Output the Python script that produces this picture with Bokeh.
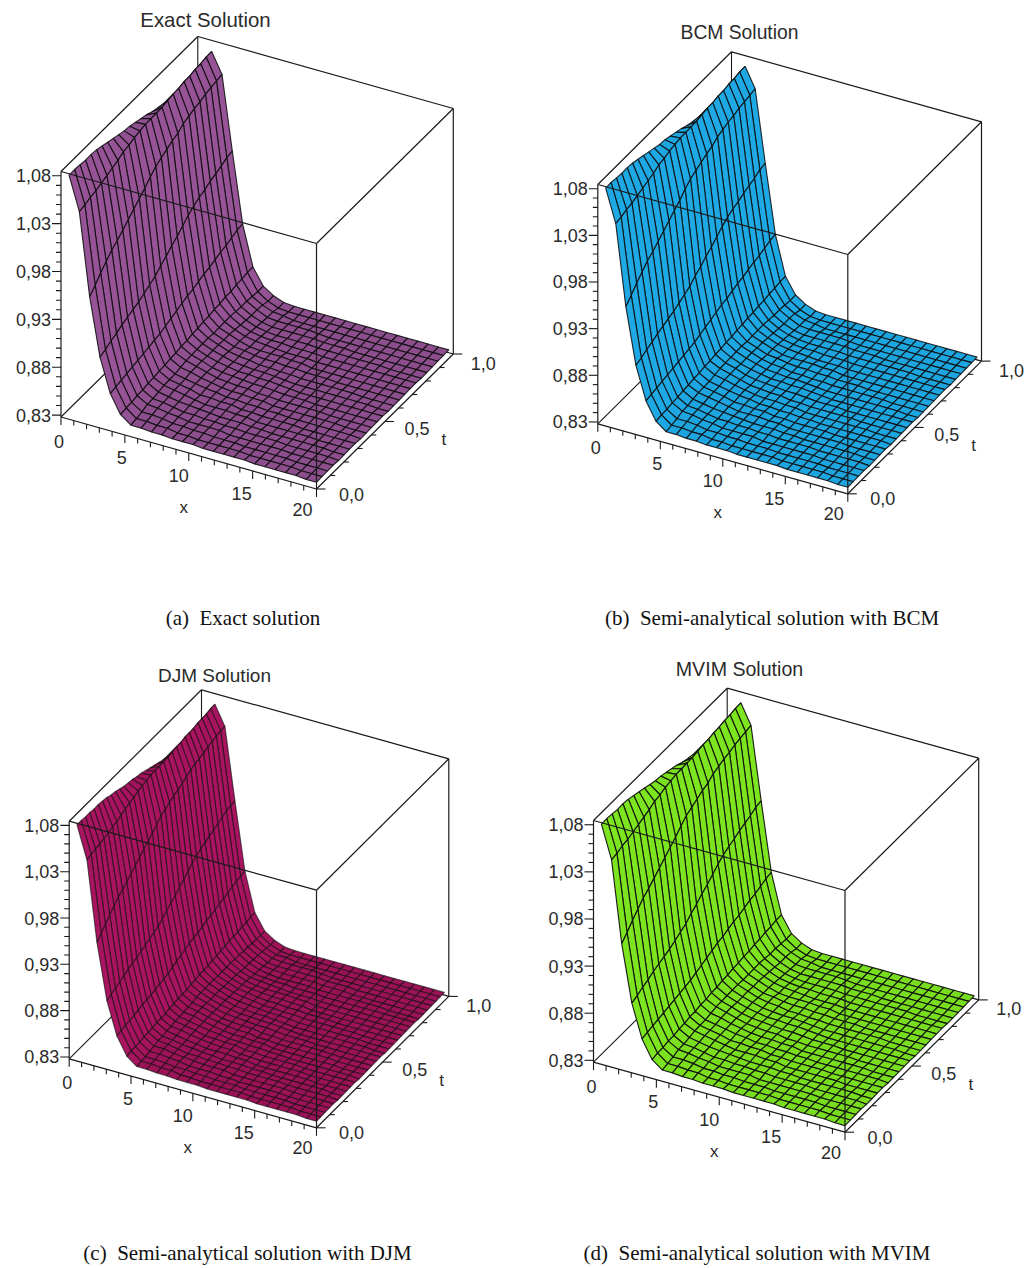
from bokeh.plotting import figure
from bokeh.models import ColumnDataSource, Range1d
from bokeh.core.properties import value
from bokeh.embed import file_html
from bokeh.resources import INLINE

# ---- Chart values -----------------------------------------------------------
titles = ["Exact Solution", "BCM Solution", "DJM Solution", "MVIM Solution"]
captions = ["(a)\u00a0 Exact solution", "(b)\u00a0 Semi-analytical solution with BCM",
            "(c)\u00a0 Semi-analytical solution with DJM", "(d)\u00a0 Semi-analytical solution with MVIM"]
y_ticks = [0.83, 0.88, 0.93, 0.98, 1.03, 1.08]
y_tick_labels = ["0,83", "0,88", "0,93", "0,98", "1,03", "1,08"]
x_ticks = [0, 5, 10, 15, 20]
t_ticks = [0.0, 0.5, 1.0]
t_tick_labels = ["0,0", "0,5", "1,0"]

# u(x, t) on the 25-line t mesh (panels a, b, d): one list per x mesh line, steep part
u_x0 = [1.083,1.083,1.082,1.081,1.081,1.080,1.078,1.076,1.074,1.072,1.070,1.069,1.067,1.065,1.063,1.060,1.058,1.056,1.054,1.052,1.050,1.049,1.048,1.046,1.045]
u_x1 = [1.048,1.049,1.051,1.052,1.054,1.056,1.058,1.060,1.063,1.064,1.066,1.067,1.068,1.068,1.068,1.068,1.069,1.070,1.070,1.071,1.071,1.072,1.072,1.073,1.073]
u_x2 = [.962,.968,.975,.981,.987,.991,.996,1.001,1.006,1.011,1.016,1.022,1.027,1.030,1.033,1.036,1.038,1.042,1.044,1.046,1.047,1.049,1.050,1.051,1.052]
u_x3 = [.902,.904,.907,.909,.912,.914,.916,.918,.921,.924,.927,.932,.936,.941,.945,.950,.955,.959,.962,.964,.967,.969,.971,.974,.975]
u_x4 = [.867,.868,.869,.870,.871,.872,.873,.874,.875,.876,.878,.880,.882,.884,.886,.887,.889,.891,.892,.894,.896,.897,.899,.901,.902]
u_x5 = [.848,.849,.849,.850,.850,.851,.851,.852,.852,.853,.853,.854,.854,.855,.855,.856,.856,.857,.857,.858,.858,.859,.859,.860,.860]
u_x6 = [.840,.841,.842,.844,.844,.845,.846,.846,.846,.847,.848,.848,.848,.848,.848,.847,.847,.847,.847,.846,.845,.845,.844,.843,.843]
u_x7 = [.840,.841,.842,.843,.843,.843,.844,.844,.844,.845,.845,.845,.844,.844,.844,.843,.843,.842,.841,.840,.839,.839,.838,.836,.836]
u_x8 = [.839,.840,.841,.841,.841,.841,.842,.842,.842,.842,.842,.841,.841,.841,.840,.839,.839,.838,.837,.836,.835,.834,.834,.832,.832]
steep_columns = [u_x0, u_x1, u_x2, u_x3, u_x4, u_x5, u_x6, u_x7, u_x8]

# the flat part: one row per t mesh line, x mesh lines 9..24, in thousandths
u_flat = [
 [839,838,838,838,837,837,837,837,837,836,836,836,836,836,835,835],
 [840,838,838,837,837,837,837,837,836,836,836,836,836,835,835,835],
 [839,839,838,838,837,837,837,836,836,836,836,836,835,835,835,835],
 [840,838,838,838,838,836,836,836,836,836,836,835,835,835,835,835],
 [839,839,838,838,837,837,836,836,836,836,835,835,835,835,835,834],
 [840,839,838,837,837,837,836,836,835,835,835,835,835,835,834,834],
 [840,838,838,838,837,837,835,835,835,835,835,835,834,834,834,834],
 [839,839,838,838,836,836,835,835,835,835,834,834,834,834,834,834],
 [840,839,837,837,836,836,835,835,834,834,834,834,834,834,834,833],
 [840,838,837,837,836,836,834,834,834,834,834,834,834,833,833,833],
 [839,838,837,837,835,835,834,834,834,834,834,833,833,833,833,833],
 [839,838,837,836,836,835,834,834,834,833,833,833,833,833,833,833],
 [839,837,837,836,836,835,834,833,833,833,833,833,833,833,833,833],
 [838,837,836,836,835,834,833,833,833,833,833,833,833,833,832,832],
 [838,837,835,835,834,834,833,833,833,833,833,833,832,832,832,832],
 [838,836,835,835,834,834,833,833,833,832,832,832,832,832,832,832],
 [836,835,835,835,834,834,832,832,832,832,832,832,832,832,832,832],
 [836,835,834,833,833,833,832,832,832,832,832,832,832,832,832,832],
 [835,834,834,833,833,833,832,832,832,832,832,832,832,832,832,832],
 [834,833,833,833,833,832,832,832,832,832,832,832,831,831,831,831],
 [833,833,833,833,833,832,832,832,831,831,831,831,831,831,831,831],
 [833,833,833,833,832,831,831,831,831,831,831,831,831,831,831,831],
 [833,831,831,831,831,831,831,831,831,831,831,831,831,831,831,831],
 [831,831,831,831,831,831,831,831,831,831,831,831,831,831,831,831],
 [831,831,831,831,831,831,831,831,831,831,831,831,831,831,831,831],
]

# panel (c) was drawn on a finer t mesh of 31 lines
uc_x0 = [1.083,1.083,1.082,1.082,1.081,1.081,1.080,1.079,1.077,1.076,1.074,1.072,1.071,1.070,1.068,1.067,1.065,1.063,1.061,1.059,1.057,1.056,1.054,1.052,1.050,1.049,1.048,1.047,1.046,1.046,1.045]
uc_x1 = [1.048,1.049,1.050,1.051,1.052,1.053,1.055,1.056,1.058,1.060,1.062,1.063,1.065,1.066,1.067,1.068,1.068,1.068,1.068,1.068,1.069,1.070,1.070,1.071,1.071,1.071,1.072,1.072,1.072,1.073,1.073]
uc_x2 = [.962,.967,.972,.977,.982,.987,.990,.994,.998,1.002,1.006,1.010,1.014,1.018,1.022,1.027,1.029,1.032,1.034,1.036,1.038,1.041,1.043,1.045,1.046,1.047,1.049,1.050,1.051,1.052,1.052]
uc_x3 = [.902,.904,.906,.908,.910,.912,.914,.915,.917,.919,.921,.923,.925,.928,.932,.936,.939,.943,.947,.951,.955,.958,.961,.963,.965,.967,.969,.971,.973,.974,.975]
uc_x4 = [.867,.868,.869,.869,.870,.871,.872,.873,.873,.874,.875,.876,.877,.879,.881,.882,.884,.886,.887,.888,.889,.891,.892,.893,.895,.896,.897,.899,.900,.901,.902]
uc_x5 = [.848,.849,.849,.849,.850,.850,.850,.851,.851,.851,.852,.852,.853,.853,.853,.854,.854,.855,.855,.855,.856,.856,.857,.857,.858,.858,.858,.859,.859,.860,.860]
uc_x6 = [.840,.841,.841,.842,.843,.844,.844,.845,.845,.846,.846,.846,.847,.847,.848,.848,.848,.848,.848,.847,.847,.847,.847,.846,.846,.845,.845,.844,.844,.843,.843]
uc_x7 = [.840,.841,.841,.842,.843,.843,.843,.843,.844,.844,.844,.845,.845,.845,.845,.844,.844,.844,.843,.843,.842,.842,.841,.840,.840,.839,.839,.838,.837,.836,.836]
uc_x8 = [.839,.840,.840,.841,.841,.841,.841,.841,.842,.842,.842,.842,.842,.842,.841,.841,.841,.840,.840,.839,.839,.838,.837,.836,.836,.835,.834,.834,.833,.832,.832]
steep_columns_c = [uc_x0, uc_x1, uc_x2, uc_x3, uc_x4, uc_x5, uc_x6, uc_x7, uc_x8]
u_flat_c = [
 [839,838,838,838,837,837,837,837,837,836,836,836,836,836,835,835],
 [840,838,838,837,837,837,837,837,836,836,836,836,836,835,835,835],
 [839,839,838,838,837,837,837,836,836,836,836,836,835,835,835,835],
 [840,838,838,838,837,837,836,836,836,836,836,835,835,835,835,835],
 [840,839,838,838,838,836,836,836,836,836,836,835,835,835,835,835],
 [839,839,838,838,837,837,836,836,836,836,835,835,835,835,835,834],
 [840,839,838,837,837,837,836,836,835,835,835,835,835,835,834,834],
 [840,838,838,838,837,837,835,835,835,835,835,835,834,834,834,834],
 [840,839,838,838,836,836,835,835,835,835,835,834,834,834,834,834],
 [839,839,838,838,836,836,835,835,835,835,834,834,834,834,834,834],
 [840,839,837,837,836,836,835,835,834,834,834,834,834,834,834,833],
 [840,838,837,837,836,836,834,834,834,834,834,834,834,833,833,833],
 [840,838,837,837,835,835,834,834,834,834,834,834,833,833,833,833],
 [839,838,837,837,835,835,834,834,834,834,834,833,833,833,833,833],
 [839,838,837,836,836,835,834,834,834,833,833,833,833,833,833,833],
 [839,837,837,836,836,835,834,833,833,833,833,833,833,833,833,833],
 [838,837,836,836,835,834,833,833,833,833,833,833,833,833,832,832],
 [838,837,836,835,835,834,833,833,833,833,833,833,833,832,832,832],
 [838,837,835,835,834,834,833,833,833,833,833,833,832,832,832,832],
 [838,836,835,835,834,834,833,833,833,832,832,832,832,832,832,832],
 [837,836,835,835,834,834,832,832,832,832,832,832,832,832,832,832],
 [836,835,835,835,834,834,832,832,832,832,832,832,832,832,832,832],
 [836,835,834,833,833,833,832,832,832,832,832,832,832,832,832,832],
 [835,834,834,833,833,833,832,832,832,832,832,832,832,832,832,832],
 [834,833,833,833,833,832,832,832,832,832,832,832,831,831,831,831],
 [834,833,833,833,833,832,832,832,831,831,831,831,831,831,831,831],
 [833,833,833,833,833,832,832,832,831,831,831,831,831,831,831,831],
 [833,833,833,833,832,831,831,831,831,831,831,831,831,831,831,831],
 [833,831,831,831,831,831,831,831,831,831,831,831,831,831,831,831],
 [831,831,831,831,831,831,831,831,831,831,831,831,831,831,831,831],
 [831,831,831,831,831,831,831,831,831,831,831,831,831,831,831,831],
]


def build_table(steep, flat):
    return [[steep[k][j] if k < 9 else flat[j][k - 9] / 1000 for k in range(25)] for j in range(len(flat))]


table_25 = build_table(steep_columns, u_flat)
table_31 = build_table(steep_columns_c, u_flat_c)

# ---- Layout of the four panels (page pixels) ---------------------------------
U_MIN, U_MAX = 0.828, 1.0845
panels = [
    dict(bl=(60.5, 416.5),  bf=(316.0, 488.5),  tl=(60.5, 171.0),  tb=(197.3, 36.0),
         fill=(150, 84, 150), flat=0.93, alpha=0.85, table=table_25,
         title=(205, 19), title_size="20.4px", caption=(242.5, 617)),
    dict(bl=(597.3, 423.3), bf=(847.3, 493.3),  tl=(597.3, 184.0), tb=(731.0, 51.3),
         fill=(30, 168, 228), flat=0.98, alpha=0.85, table=table_25,
         title=(739, 32), title_size="19.3px", caption=(771.5, 617)),
    dict(bl=(68.7, 1058.3), bf=(316.0, 1127.3), tl=(68.7, 820.7),  tb=(201.0, 689.3),
         fill=(168, 20, 95), flat=0.92, alpha=0.6, table=table_31,
         title=(214, 675), title_size="19px", caption=(247, 1252)),
    dict(bl=(593.0, 1061.7), bf=(844.5, 1131.7), tl=(593.0, 820.0), tb=(726.7, 687.7),
         fill=(125, 228, 32), flat=0.97, alpha=0.9, table=table_25,
         title=(739, 668), title_size="19.6px", caption=(756.5, 1252)),
]
X_LABEL_OFF = [(-2, 24), (-3, 22), (-10, 22), (-11, 22), (-14, 20)]
T_LABEL_OFF = [(35, 5), (32, 7), (30, 9)]

p = figure(width=1026, height=1268, output_backend="svg", toolbar_location=None,
           x_range=Range1d(0, 1026), y_range=Range1d(1268, 0),
           x_axis_type=None, y_axis_type=None, min_border=0)
p.grid.visible = False
p.outline_line_color = None

SANS = value("Liberation Sans")
SERIF = value("Liberation Serif")
TXT = "#2b2b2b"


def hexcol(c, f):
    return "#%02x%02x%02x" % tuple(min(255, int(round(v * f))) for v in c)


def label(x, y, s, size, align="center", font=SANS, color=TXT):
    p.text([x], [y], text=[s], text_font=font, text_font_size=size, text_align=align,
           text_baseline="middle", text_color=color)


for i, pn in enumerate(panels):
    ax, ay = pn["bl"]
    xv = (pn["bf"][0] - ax, pn["bf"][1] - ay)
    hv = (pn["tl"][0] - ax, pn["tl"][1] - ay)
    tv = (pn["tb"][0] - pn["tl"][0], pn["tb"][1] - pn["tl"][1])
    table = pn["table"]
    n_t, n_x = len(table), len(table[0])

    def proj(x, t, u):
        a = x / 20.0
        b = (u - U_MIN) / (U_MAX - U_MIN)
        return ax + a * xv[0] + t * tv[0] + b * hv[0], ay + a * xv[1] + t * tv[1] + b * hv[1]

    def seg(lines, color="#1a1a1a", width=1.1):
        p.segment([l[0][0] for l in lines], [l[0][1] for l in lines],
                  [l[1][0] for l in lines], [l[1][1] for l in lines],
                  line_color=color, line_width=width)

    # back edges of the box, behind the surface
    seg([(proj(0, 0, U_MIN), proj(0, 1, U_MIN)), (proj(0, 1, U_MIN), proj(20, 1, U_MIN)),
         (proj(0, 1, U_MIN), proj(0, 1, U_MAX))])

    # surface, painted from the far corner to the near corner
    def mesh(k, j):
        t = j / (n_t - 1)
        x = 0.63 + k * (20 - 0.63) / (n_x - 1) - 0.35 * t
        return proj(x, t, table[j][k])

    qx, qy, qc = [], [], []
    for j in range(n_t - 2, -1, -1):
        for k in range(n_x - 1):
            pts = [mesh(k, j), mesh(k + 1, j), mesh(k + 1, j + 1), mesh(k, j + 1)]
            qx.append([q[0] for q in pts])
            qy.append([q[1] for q in pts])
            drop = abs(table[j][k] - table[j][k + 1]) + abs(table[j + 1][k] - table[j + 1][k + 1])
            steep = min(1.0, drop / 0.02)
            qc.append(hexcol(pn["fill"], pn["flat"] + (1 - pn["flat"]) * steep))
    src = ColumnDataSource(dict(xs=qx, ys=qy, c=qc))
    p.patches("xs", "ys", source=src, fill_color="c", line_color="#0a0a0a", line_width=1.15, line_alpha=pn["alpha"])

    # front and top edges of the box
    seg([(proj(0, 0, U_MAX), proj(20, 0, U_MAX)), (proj(20, 0, U_MAX), proj(20, 0, U_MIN)),
         (proj(0, 0, U_MAX), proj(0, 1, U_MAX)), (proj(0, 1, U_MAX), proj(20, 1, U_MAX)),
         (proj(20, 1, U_MAX), proj(20, 0, U_MAX)), (proj(20, 1, U_MAX), proj(20, 1, U_MIN)),
         (proj(0, 0, U_MIN), proj(0, 0, U_MAX)), (proj(0, 0, U_MIN), proj(20, 0, U_MIN)),
         (proj(20, 0, U_MIN), proj(20, 1, U_MIN))], width=1.2)

    # ticks
    ticks = []
    for m in range(26):
        x0, y0 = proj(0, 0, 0.83 + m * 0.01)
        ticks.append(((x0, y0), (x0 - (9 if m % 5 == 0 else 5), y0)))
    for m in range(21):
        x0, y0 = proj(m, 0, U_MIN)
        ticks.append(((x0, y0), (x0, y0 + (8 if m % 5 == 0 else 5))))
    for m in range(11):
        x0, y0 = proj(20, m / 10, U_MIN)
        ticks.append(((x0, y0), (x0 + (9 if m % 5 == 0 else 5), y0)))
    seg(ticks, width=1.1)

    # tick labels and axis names
    for v, s in zip(y_ticks, y_tick_labels):
        x0, y0 = proj(0, 0, v)
        label(x0 - 10, y0, s, "18px", align="right")
    for v, off in zip(x_ticks, X_LABEL_OFF):
        x0, y0 = proj(v, 0, U_MIN)
        label(x0 + off[0], y0 + off[1], str(v), "18px")
    for v, s, off in zip(t_ticks, t_tick_labels, T_LABEL_OFF):
        x0, y0 = proj(20, v, U_MIN)
        label(x0 + off[0], y0 + off[1], s, "18px")
    x0, y0 = proj(10, 0, U_MIN)
    label(x0 - 5, y0 + 54, "x", "17px")
    x0, y0 = proj(20, 0.5, U_MIN)
    label(x0 + 59, y0 + 18, "t", "17px")

    label(pn["title"][0], pn["title"][1], titles[i], pn["title_size"])
    label(pn["caption"][0], pn["caption"][1], captions[i], "21px", font=SERIF, color="#111111")

open("out.html", "w").write(file_html(p, INLINE))
